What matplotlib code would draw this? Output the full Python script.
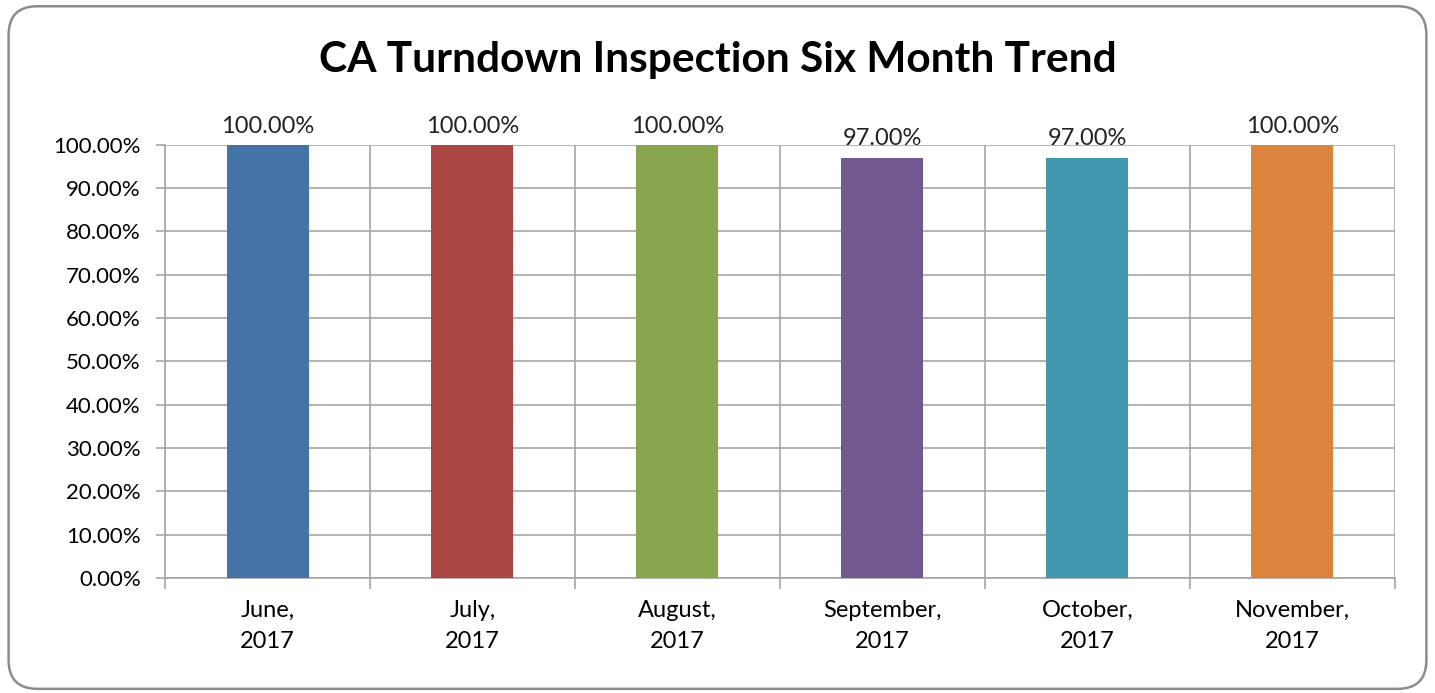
import numpy as np
import matplotlib.pyplot as plt
from matplotlib.patches import FancyBboxPatch
from matplotlib.ticker import FixedLocator, PercentFormatter

# chart data
months = ["June,\n2017", "July,\n2017", "August,\n2017", "September,\n2017", "October,\n2017", "November,\n2017"]
pass_rate = [100.0, 100.0, 100.0, 97.0, 97.0, 100.0]
bar_colors = ["#4572A7", "#AA4643", "#89A54E", "#71588F", "#4198AF", "#DB843D"]
y_ticks = [0, 10, 20, 30, 40, 50, 60, 70, 80, 90, 100]

plt.rcParams["font.family"] = ["Lato", "DejaVu Sans"]
grid_col = "#A6A6A6"

fig = plt.figure(figsize=(14.35, 6.93), dpi=100)
ax = fig.add_axes([0.115, 0.166, 0.857, 0.625])

# rounded outer frame
frame = FancyBboxPatch((0.006, 0.006), 0.988, 0.985, boxstyle="round,pad=0,rounding_size=0.02",
                       transform=fig.transFigure, fill=False, edgecolor="#8C8C8C", linewidth=1.8,
                       mutation_aspect=1435 / 693)
fig.patches.append(frame)

x = np.arange(len(months))
bars = ax.bar(x, pass_rate, width=0.4, color=bar_colors, zorder=3)

for b, v in zip(bars, pass_rate):
    ax.annotate(f"{v:.2f}%", (b.get_x() + b.get_width() / 2, v), xytext=(0, 6),
                textcoords="offset points", ha="center", va="bottom", fontsize=17, color="#222222")

ax.set_xlim(-0.5, len(months) - 0.5)
ax.set_ylim(0, 100)
ax.set_yticks(y_ticks)
ax.yaxis.set_major_formatter(PercentFormatter(decimals=2))
ax.set_xticks(x)
ax.set_xticklabels(months, fontsize=17, linespacing=1.55)
ax.xaxis.set_minor_locator(FixedLocator(np.arange(-0.5, len(months), 1.0)))
ax.tick_params(axis="x", which="major", length=0, pad=16)
ax.tick_params(axis="x", which="minor", length=8, color=grid_col, width=1.2)
ax.tick_params(axis="y", length=6.5, color=grid_col, width=1.2, labelsize=16, pad=11)

ax.grid(axis="y", which="major", color=grid_col, linewidth=1.2, zorder=0)
ax.grid(axis="x", which="minor", color=grid_col, linewidth=1.2, zorder=0)

for side in ["top", "right"]:
    ax.spines[side].set_visible(False)
for side in ["left", "bottom"]:
    ax.spines[side].set_color(grid_col)
    ax.spines[side].set_linewidth(1.2)

fig.text(0.5, 0.913, "CA Turndown Inspection Six Month Trend", ha="center", va="center",
         fontsize=30.5, fontweight="bold", color="black")

fig.savefig("out.png", dpi=100)
